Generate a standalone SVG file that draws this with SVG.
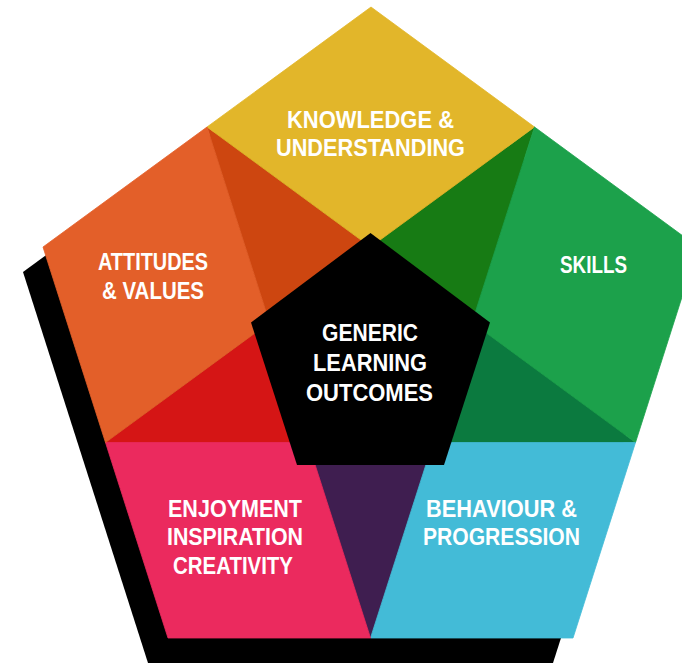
<svg xmlns="http://www.w3.org/2000/svg" width="682" height="663" viewBox="0 0 682 663">
  <style>
    .lbl { font-family: "Liberation Sans", Arial, sans-serif; font-weight: bold; font-size: 24px; fill: #ffffff; text-anchor: middle; }
    .yellow { fill: #E2B62A; stroke: #E2B62A; }
    .orange { fill: #E35F29; stroke: #E35F29; }
    .dorange { fill: #CD4610; stroke: #CD4610; }
    .red { fill: #D51515; stroke: #D51515; }
    .pink { fill: #EB2A5E; stroke: #EB2A5E; }
    .purple { fill: #3F1E50; stroke: #3F1E50; }
    .cyan { fill: #43BBD7; stroke: #43BBD7; }
    .green { fill: #1CA14B; stroke: #1CA14B; }
    .dgreen { fill: #177B14; stroke: #177B14; }
    .bgreen { fill: #0B7A3F; stroke: #0B7A3F; }
    .blk { fill: #000000; }
    polygon { stroke-width: 0.8; stroke-linejoin: round; }
  </style>
  <rect width="682" height="663" fill="#ffffff"/>
  <g id="shadow">
    <polygon class="blk" points="351,32 678,272 553,663 148,663 23,272" style="stroke:none"/>
  </g>
  <g id="wedges">
    <polygon class="dgreen" points="534.5,127 472,322.5 370.5,247"/>
    <polygon class="bgreen" points="635.5,442.5 433,442.5 472,322.5"/>
    <polygon class="purple" points="370.5,638 308,442.5 433,442.5"/>
    <polygon class="red" points="105.5,442.5 269.5,322.5 308,442.5"/>
    <polygon class="dorange" points="207,127 370.5,247 269.5,322.5"/>
  </g>
  <g id="knowledge">
    <polygon class="yellow" points="371,7 534.5,127 370.5,247 207,127"/>
    <text class="lbl" x="370.5" y="128" textLength="167" lengthAdjust="spacingAndGlyphs">KNOWLEDGE &amp;</text>
    <text class="lbl" x="370.5" y="156" textLength="189" lengthAdjust="spacingAndGlyphs">UNDERSTANDING</text>
  </g>
  <g id="skills">
    <polygon class="green" points="534.5,127 698,247 635.5,442.5 472,322.5"/>
    <text class="lbl" x="593.5" y="273" textLength="67" lengthAdjust="spacingAndGlyphs">SKILLS</text>
  </g>
  <g id="behaviour">
    <polygon class="cyan" points="635.5,442.5 573,638 370.5,638 433,442.5"/>
    <text class="lbl" x="501.5" y="517" textLength="151" lengthAdjust="spacingAndGlyphs">BEHAVIOUR &amp;</text>
    <text class="lbl" x="501.5" y="545" textLength="157" lengthAdjust="spacingAndGlyphs">PROGRESSION</text>
  </g>
  <g id="enjoyment">
    <polygon class="pink" points="370.5,638 168,638 105.5,442.5 308,442.5"/>
    <text class="lbl" x="235" y="517" textLength="134" lengthAdjust="spacingAndGlyphs">ENJOYMENT</text>
    <text class="lbl" x="235" y="545" textLength="136" lengthAdjust="spacingAndGlyphs">INSPIRATION</text>
    <text class="lbl" x="233" y="574" textLength="120" lengthAdjust="spacingAndGlyphs">CREATIVITY</text>
  </g>
  <g id="attitudes">
    <polygon class="orange" points="105.5,442.5 43,247 207,127 269.5,322.5"/>
    <text class="lbl" x="153" y="270" textLength="110" lengthAdjust="spacingAndGlyphs">ATTITUDES</text>
    <text class="lbl" x="153" y="299" textLength="102" lengthAdjust="spacingAndGlyphs">&amp; VALUES</text>
  </g>
  <g id="center">
    <polygon class="blk" points="370.5,233 490,322.5 444,465 297,465 251,322.5"/>
    <text class="lbl" x="370" y="341" textLength="96" lengthAdjust="spacingAndGlyphs">GENERIC</text>
    <text class="lbl" x="370" y="371" textLength="114" lengthAdjust="spacingAndGlyphs">LEARNING</text>
    <text class="lbl" x="369.5" y="401" textLength="127" lengthAdjust="spacingAndGlyphs">OUTCOMES</text>
  </g>
</svg>
